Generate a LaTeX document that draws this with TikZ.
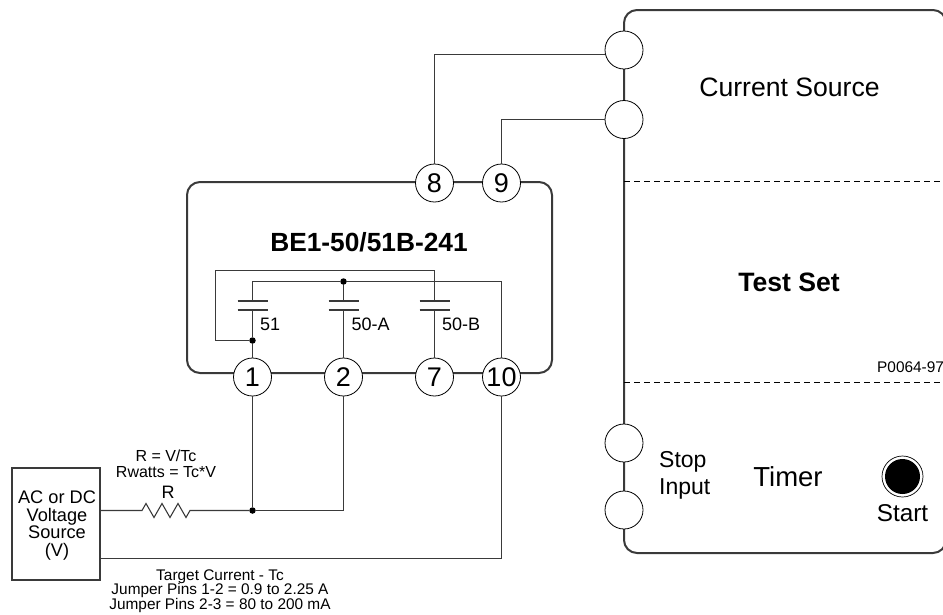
\documentclass[tikz,border=0pt]{standalone}
\usepackage{fontspec}
\setmainfont{Liberation Sans}
\definecolor{ink}{HTML}{3A3A3A}
\tikzset{
  pin/.style={circle,draw=black,line width=0.8pt,fill=white,minimum size=38pt,inner sep=0pt,font=\fontsize{27}{27}\selectfont},
  wire/.style={draw=ink,line width=1.1pt},
  frame/.style={draw=ink,line width=2pt,rounded corners=13pt},
  divider/.style={draw=black,line width=1.5pt,dash pattern=on 6pt off 4pt},
  plate/.style={draw=ink,line width=1.1pt},
  junct/.style={circle,fill=black,minimum size=6.5pt,inner sep=0pt},
  lab/.style={inner sep=0pt,align=center,text=black},
  big/.style={lab,font=\fontsize{26.6}{28}\selectfont},
  mid/.style={lab,font=\fontsize{18}{18}\selectfont},
  small/.style={lab,font=\fontsize{15.4}{14.7}\selectfont},
}
\begin{document}
\begin{tikzpicture}[x=1pt,y=-1pt]
\useasboundingbox (0,0) rectangle (943,614);
% frames
\draw[frame] (187,182) rectangle (552,373);
\draw[frame] (624,10) rectangle (946,553);
\draw[divider] (624,181.5) -- (943,181.5);
\draw[divider] (624,382.5) -- (943,382.5);
% pins
\node[pin] (p1) at (252.5,377) {1};
\node[pin] (p2) at (343.5,377) {2};
\node[pin] (p7) at (434.5,377) {7};
\node[pin] (p10) at (501.5,377) {10};
\node[pin] (p8) at (434.5,183) {8};
\node[pin] (p9) at (501.5,183) {9};
\node[pin] (s1) at (624,50) {};
\node[pin] (s2) at (624,119.5) {};
\node[pin] (t1) at (624,443) {};
\node[pin] (t2) at (624,510) {};
% source
\node[draw=ink,line width=1.1pt,minimum width=88pt,minimum height=112pt,inner sep=0pt] (src) at (56,524) {};
\node[lab,font=\fontsize{18.2}{17.4}\selectfont] (srct) at (57,525.5) {AC or DC\\Voltage\\Source\\(V)};
% junctions and bends
\node[junct] (ja) at (343.5,281.5) {};
\node[junct] (jb) at (252.5,340.5) {};
\node[junct] (jc) at (252.5,510.5) {};
\coordinate (loopl) at (215.5,270.5);
\coordinate (c51t) at (252.5,301); \coordinate (c51b) at (252.5,310);
\coordinate (c2t) at (343.5,301); \coordinate (c2b) at (343.5,310);
\coordinate (c7t) at (434.5,301); \coordinate (c7b) at (434.5,310);
\coordinate (wirel) at (100,510.5);
\coordinate (rl) at (142,510.5);
\coordinate (rr) at (190,510.5);
\coordinate (ret) at (100,558.5);
% external wires
\draw[wire] (p8.north) |- ([yshift=-4.5pt]s1.west);
\draw[wire] (p9.north) |- (s2.west);
\draw[wire] (wirel) -- (rl) -- ++(4,-7) -- ++(8,14) -- ++(8,-14) -- ++(8,14) -- ++(8,-14) -- ++(8,14) -- (rr) -- (jc);
\draw[wire] (jc) -- (p1.south);
\draw[wire] (jc) -| (p2.south);
\draw[wire] (ret) -| (p10.south);
% internal wires
\draw[wire] (c51t) |- (ja);
\draw[wire] (ja) -| (p10.north);
\draw[wire] (ja) -- (c2t);
\draw[wire] (c2b) -- (p2.north);
\draw[wire] (c51b) -- (jb);
\draw[wire] (jb) -- (p1.north);
\draw[wire] (jb) -| (loopl) -| (c7t);
\draw[wire] (c7b) -- (p7.north);
% contact plates
\foreach \n in {c51t,c51b,c2t,c2b,c7t,c7b}{
  \draw[plate] ([xshift=-15pt]\n) -- ([xshift=15pt]\n);
}
% start button
\node[circle,draw=black,line width=0.7pt,fill=white,minimum size=41pt,inner sep=0pt] (startr) at (902.5,476.5) {};
\node[circle,fill=black,minimum size=35pt,inner sep=0pt] (startb) at (902.5,476.5) {};
% labels
\node[big] (cs) at (789.5,87) {Current Source};
\node[lab,font=\fontsize{26.6}{28}\selectfont\bfseries] (ts) at (789,282) {Test Set};
\node[lab,font=\fontsize{26.3}{28}\selectfont\bfseries] (be) at (369,242) {BE1-50/51B-241};
\node[mid,anchor=west] (l51) at (260,324) {51};
\node[mid,anchor=west] (l50a) at (351.5,324) {50-A};
\node[mid,anchor=west] (l50b) at (442,324) {50-B};
\node[small,anchor=west] (pn) at (877,367) {P0064-97};
\node[lab,anchor=west,align=left,font=\fontsize{23}{27}\selectfont] (si) at (659,475) {Stop\\Input};
\node[big,font=\fontsize{27.5}{28}\selectfont] (tm) at (788,477) {Timer};
\node[lab,font=\fontsize{24.3}{24}\selectfont] (st) at (902.5,513) {Start};
\node[small,font=\fontsize{16}{16}\selectfont] (rf) at (166,464) {R = V/Tc\\Rwatts = Tc*V};
\node[mid] (rn) at (168,492) {R};
\node[small] (tc) at (220,591) {Target Current - Tc\\Jumper Pins 1-2 = 0.9 to 2.25 A\\Jumper Pins 2-3 = 80 to 200 mA};
\end{tikzpicture}
\end{document}
